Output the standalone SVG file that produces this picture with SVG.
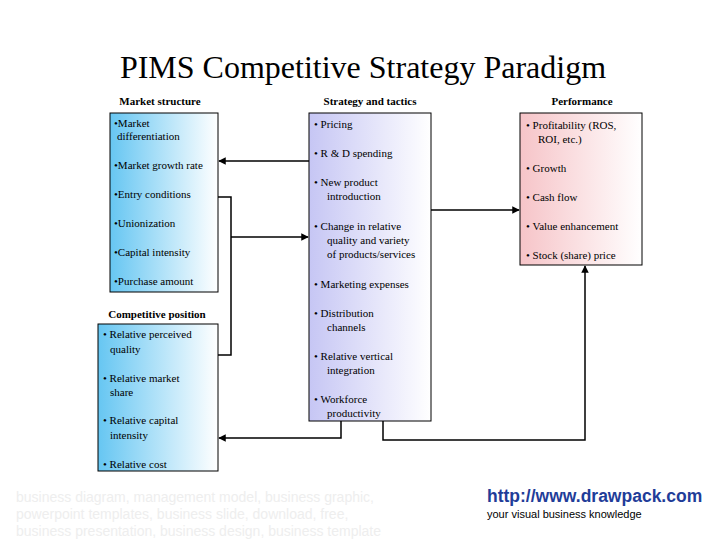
<svg xmlns="http://www.w3.org/2000/svg" width="728" height="546" viewBox="0 0 728 546">
<style>
.t{font-family:"Liberation Serif",serif;font-size:11px;fill:#000}
.h{font-family:"Liberation Serif",serif;font-size:11px;font-weight:bold;fill:#000}
.c{fill:none;stroke:#000;stroke-width:1.5}
.box{stroke:#000;stroke-width:1}
.w{font-family:"Liberation Sans",sans-serif;font-size:14px;fill:#eeeeee}
</style>
<defs>
<linearGradient id="gb" x1="0" x2="1" y1="0" y2="0"><stop offset="0" stop-color="#66c6f2"/><stop offset="1" stop-color="#ffffff"/></linearGradient>
<linearGradient id="gp" x1="0" x2="1" y1="0" y2="0"><stop offset="0" stop-color="#c6c6f4"/><stop offset="1" stop-color="#ffffff"/></linearGradient>
<linearGradient id="gr" x1="0" x2="1" y1="0" y2="0"><stop offset="0" stop-color="#f6c4c8"/><stop offset="1" stop-color="#ffffff"/></linearGradient>
<marker id="a" viewBox="0 0 10 10" refX="9" refY="5" markerWidth="5" markerHeight="5" orient="auto"><path d="M0,0L10,5L0,10z" fill="#000"/></marker>
</defs>
<rect width="728" height="546" fill="#fff"/>
<text x="363" y="78" text-anchor="middle" font-family="Liberation Serif,serif" font-size="32">PIMS Competitive Strategy Paradigm</text>
<g id="ms">
<text class="h" x="160" y="105" text-anchor="middle">Market structure</text>
<rect class="box" x="110" y="113" width="108" height="179" fill="url(#gb)"/>
<text class="t" x="114" y="127">•Market</text><text class="t" x="117" y="140">differentiation</text>
<text class="t" x="114" y="169">•Market growth rate</text>
<text class="t" x="114" y="198">•Entry conditions</text>
<text class="t" x="114" y="227">•Unionization</text>
<text class="t" x="114" y="256">•Capital intensity</text>
<text class="t" x="114" y="285">•Purchase amount</text>
</g>
<g id="cp">
<text class="h" x="157" y="318" text-anchor="middle">Competitive position</text>
<rect class="box" x="98" y="324" width="120" height="147" fill="url(#gb)"/>
<text class="t" x="103" y="338">• Relative perceived</text><text class="t" x="110" y="353">quality</text>
<text class="t" x="103" y="382">• Relative market</text><text class="t" x="110" y="396">share</text>
<text class="t" x="103" y="424">• Relative capital</text><text class="t" x="110" y="439">intensity</text>
<text class="t" x="103" y="468">• Relative cost</text>
</g>
<g id="st">
<text class="h" x="370" y="105" text-anchor="middle">Strategy and tactics</text>
<rect class="box" x="309" y="113" width="122" height="308" fill="url(#gp)"/>
<text class="t" x="314" y="128">• Pricing</text>
<text class="t" x="314" y="157">• R &amp; D spending</text>
<text class="t" x="314" y="186">• New product</text><text class="t" x="327" y="200">introduction</text>
<text class="t" x="314" y="230">• Change in relative</text><text class="t" x="327" y="244">quality and variety</text><text class="t" x="327" y="258">of products/services</text>
<text class="t" x="314" y="288">• Marketing expenses</text>
<text class="t" x="314" y="317">• Distribution</text><text class="t" x="327" y="331">channels</text>
<text class="t" x="314" y="360">• Relative vertical</text><text class="t" x="327" y="374">integration</text>
<text class="t" x="314" y="403">• Workforce</text><text class="t" x="327" y="417">productivity</text>
</g>
<g id="perf">
<text class="h" x="582" y="105" text-anchor="middle">Performance</text>
<rect class="box" x="520" y="113" width="122" height="152" fill="url(#gr)"/>
<text class="t" x="526" y="129">• Profitability (ROS,</text><text class="t" x="538" y="143">ROI, etc.)</text>
<text class="t" x="526" y="172">• Growth</text>
<text class="t" x="526" y="201">• Cash flow</text>
<text class="t" x="526" y="230">• Value enhancement</text>
<text class="t" x="526" y="259">• Stock (share) price</text>
</g>
<g id="connectors">
<path class="c" d="M309,161H219" marker-end="url(#a)"/>
<path class="c" d="M218,197H231V355H218"/>
<path class="c" d="M231,237H308" marker-end="url(#a)"/>
<path class="c" d="M431,210H519" marker-end="url(#a)"/>
<path class="c" d="M341,421V438H219" marker-end="url(#a)"/>
<path class="c" d="M383,421V440H585V266" marker-end="url(#a)"/>
</g>
<g id="footer">
<text class="w" x="16" y="502">business diagram, management model, business graphic,</text>
<text class="w" x="16" y="519">powerpoint templates, business slide, download, free,</text>
<text class="w" x="16" y="536">business presentation, business design, business template</text>
<text x="487" y="502" font-family="Liberation Sans,sans-serif" font-size="17.5" font-weight="bold" fill="#1f3d99">http://www.drawpack.com</text>
<text x="487" y="518" font-family="Liberation Sans,sans-serif" font-size="11" fill="#000">your visual business knowledge</text>
</g>
</svg>
